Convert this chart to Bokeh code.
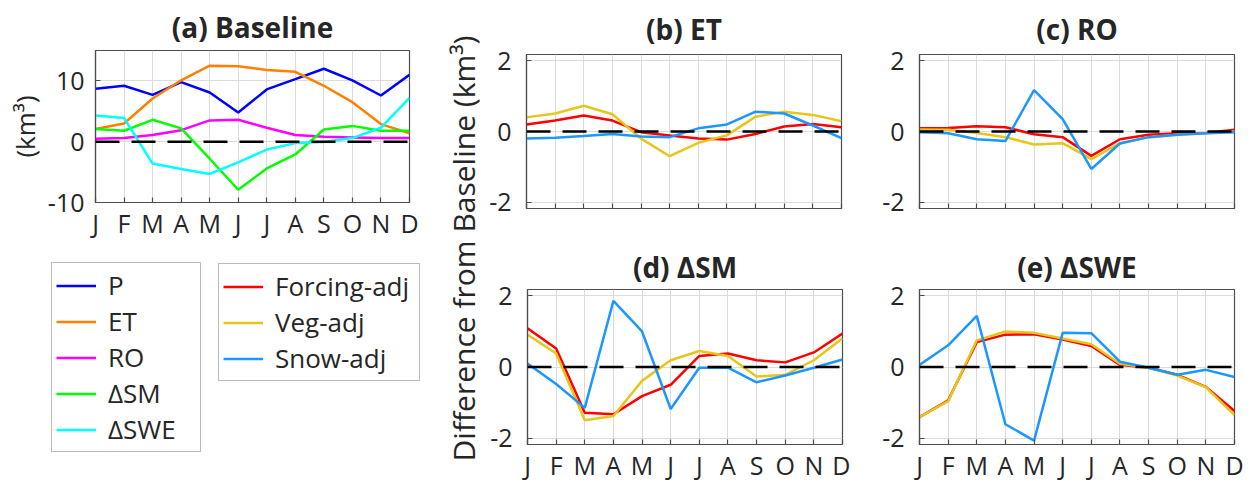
import math
from bokeh.plotting import figure
from bokeh.layouts import row, column
from bokeh.models import Range1d, Span, Legend, LegendItem, Label, FixedTicker
from bokeh.core.properties import value
from bokeh.embed import file_html
from bokeh.resources import INLINE

FONT = "Open Sans"
TXT = "#262626"
FRAME = "#4D4D4D"
GRID = "#DCDCDC"

months = ["J", "F", "M", "A", "M", "J", "J", "A", "S", "O", "N", "D"]
month_idx = list(range(1, 13))

# (a) Baseline (km^3)
base_P = [8.7, 9.2, 7.7, 9.8, 8.1, 4.8, 8.6, 10.3, 12.0, 10.1, 7.6, 11.0]
base_ET = [2.1, 3.0, 7.1, 10.1, 12.5, 12.4, 11.8, 11.5, 9.2, 6.5, 2.9, 1.4]
base_RO = [0.5, 0.6, 1.1, 1.9, 3.5, 3.6, 2.3, 1.1, 0.8, 0.7, 0.6, 0.6]
base_dSM = [2.1, 1.8, 3.6, 2.2, -2.8, -7.9, -4.4, -2.1, 2.0, 2.6, 1.8, 1.8]
base_dSWE = [4.3, 3.9, -3.6, -4.5, -5.3, -3.4, -1.3, -0.2, -0.05, 0.6, 2.3, 7.2]

# (b) ET difference from baseline
et_forcing = [0.20, 0.31, 0.45, 0.31, -0.02, -0.11, -0.20, -0.23, -0.07, 0.14, 0.21, 0.12]
et_veg = [0.40, 0.51, 0.73, 0.49, -0.20, -0.70, -0.32, -0.11, 0.42, 0.56, 0.47, 0.29]
et_snow = [-0.20, -0.18, -0.13, -0.07, -0.14, -0.16, 0.09, 0.20, 0.56, 0.51, 0.17, -0.19]

# (c) RO
ro_forcing = [0.09, 0.10, 0.15, 0.12, -0.08, -0.16, -0.69, -0.22, -0.09, -0.05, -0.04, 0.05]
ro_veg = [0.06, 0.05, -0.04, -0.16, -0.37, -0.33, -0.78, -0.33, -0.16, -0.09, -0.05, 0.00]
ro_snow = [-0.02, -0.05, -0.22, -0.27, 1.17, 0.35, -1.06, -0.34, -0.16, -0.09, -0.05, -0.02]

# (d) dSM
sm_forcing = [1.09, 0.52, -1.29, -1.33, -0.82, -0.50, 0.31, 0.38, 0.19, 0.13, 0.41, 0.94]
sm_veg = [0.91, 0.38, -1.50, -1.38, -0.39, 0.19, 0.45, 0.31, -0.27, -0.22, 0.19, 0.81]
sm_snow = [0.10, -0.48, -1.15, 1.86, 1.00, -1.18, -0.02, -0.02, -0.43, -0.24, -0.02, 0.21]

# (e) dSWE
swe_forcing = [-1.41, -0.94, 0.70, 0.91, 0.92, 0.77, 0.59, 0.06, -0.02, -0.22, -0.56, -1.24]
swe_veg = [-1.41, -0.96, 0.75, 1.00, 0.96, 0.80, 0.64, 0.09, -0.02, -0.24, -0.57, -1.35]
swe_snow = [0.06, 0.61, 1.44, -1.61, -2.07, 0.96, 0.95, 0.15, -0.02, -0.22, -0.08, -0.28]

base_names = ["P", "ET", "RO", "\u0394SM", "\u0394SWE"]
base_colors = ["#0000FF", "#FF8000", "#FF00FF", "#00FF00", "#00FFFF"]
exp_names = ["Forcing-adj", "Veg-adj", "Snow-adj"]
exp_colors = ["#FF0000", "#E6C619", "#1E96FF"]

LW = 2.5


def no_align(p):
    try:
        p.frame_align = False
    except Exception:
        pass


def make_panel(title, width, height, yr, yticks, borders, xlabels, title_standoff, ylabel=None):
    left, right, top, bottom = borders
    p = figure(width=width, height=height, x_range=Range1d(1, 12), y_range=Range1d(*yr),
               output_backend="svg", toolbar_location=None,
               min_border_left=left, min_border_right=right,
               min_border_top=top, min_border_bottom=bottom)
    no_align(p)
    p.title.text = title
    p.title.text_font = FONT
    p.title.text_font_size = "28px"
    p.title.text_font_style = "bold"
    p.title.text_color = TXT
    p.title.align = "center"
    p.title.standoff = title_standoff
    p.xaxis.ticker = FixedTicker(ticks=month_idx)
    p.xaxis.major_label_overrides = {i: (m if xlabels else "") for i, m in zip(month_idx, months)}
    p.yaxis.ticker = FixedTicker(ticks=yticks)
    p.yaxis.major_label_overrides = {t: str(t) for t in yticks}
    p.xgrid.ticker = FixedTicker(ticks=month_idx)
    p.ygrid.ticker = FixedTicker(ticks=yticks)
    p.grid.grid_line_color = GRID
    p.grid.grid_line_width = 1
    for ax in p.axis:
        ax.major_tick_in = 5
        ax.major_tick_out = 0
        ax.minor_tick_in = 0
        ax.minor_tick_out = 0
        ax.axis_line_color = FRAME
        ax.axis_line_width = 1.2
        ax.major_tick_line_color = FRAME
        ax.major_tick_line_width = 1.2
        ax.major_label_text_font = FONT
        ax.major_label_text_font_size = "25px"
        ax.major_label_text_color = TXT
    p.xaxis.major_label_standoff = 3
    if not xlabels:
        p.xaxis.major_label_text_font_size = "8px"
        p.xaxis.major_label_standoff = 0
    p.yaxis.major_label_standoff = 11 if ylabel else 15
    if ylabel:
        p.yaxis.axis_label = ylabel
        p.yaxis.axis_label_text_font = FONT
        p.yaxis.axis_label_text_font_size = "26px"
        p.yaxis.axis_label_text_font_style = "normal"
        p.yaxis.axis_label_text_color = TXT
        p.yaxis.axis_label_standoff = 2
    p.outline_line_color = FRAME
    p.outline_line_width = 1.2
    p.background_fill_color = "white"
    p.border_fill_color = "white"
    return p


def add_zero(p):
    p.add_layout(Span(location=0, dimension="width", line_color="black",
                      line_width=2.5, line_dash="24 12"))


H1 = 242
H2 = 242

# Panel (a)
pa = make_panel("(a) Baseline", 420, H1, (-10, 15), [-10, 0, 10], (95, 11, 48, 38), True, 10, "(km\u00b3)")
for ys, c in zip([base_P, base_ET, base_RO, base_dSM, base_dSWE], base_colors):
    pa.line(month_idx, ys, line_color=c, line_width=LW)
add_zero(pa)

YR = (-2.18, 2.18)
YT = [-2, 0, 2]
pb = make_panel("(b) ET", 365, H1, YR, YT, (41, 9, 52, 34), False, 14)
pc = make_panel("(c) RO", 404, H1, YR, YT, (69, 20, 52, 34), False, 14)
pd = make_panel("(d) \u0394SM", 365, H2, YR, YT, (42, 8, 45, 40), True, 7)
pe = make_panel("(e) \u0394SWE", 404, H2, YR, YT, (69, 20, 45, 40), True, 7)

for p, series in [(pb, [et_forcing, et_veg, et_snow]),
                  (pc, [ro_forcing, ro_veg, ro_snow]),
                  (pd, [sm_forcing, sm_veg, sm_snow]),
                  (pe, [swe_forcing, swe_veg, swe_snow])]:
    for ys, c in zip(series, exp_colors):
        p.line(month_idx, ys, line_color=c, line_width=LW)
    add_zero(p)

# Legend area (the swatch renderers hold real data but lie outside the visible range)
leg = figure(width=420, height=H2, x_range=Range1d(-20, -10), y_range=Range1d(0, 1),
             min_border=0, x_axis_location=None, y_axis_location=None,
             toolbar_location=None, output_backend="svg")
no_align(leg)
leg.grid.visible = False
leg.outline_line_color = None
leg.background_fill_color = "white"
leg.border_fill_color = "white"


def make_legend(names, colors, data, loc, label_width):
    items = []
    for n, c, ys in zip(names, colors, data):
        r = leg.line(month_idx, ys, line_color=c, line_width=LW)
        items.append(LegendItem(label=value(n), renderers=[r]))
    lg = Legend(items=items, location=loc, orientation="vertical",
                label_text_font=FONT, label_text_font_size="26px", label_text_color=TXT,
                glyph_width=40, glyph_height=25, label_height=25, label_width=label_width,
                label_standoff=12, spacing=0, padding=4, margin=0,
                border_line_color="#777777", border_line_width=1.5,
                background_fill_color="white", background_fill_alpha=1)
    leg.add_layout(lg)


make_legend(base_names, base_colors, [base_P, base_ET, base_RO, base_dSM, base_dSWE], (51, 32), 88)
make_legend(exp_names, exp_colors, [et_forcing, et_veg, et_snow], (218, 103), 140)

# Shared y label
lab = figure(width=65, height=H1 + H2, x_range=Range1d(0, 1), y_range=Range1d(0, 1),
             min_border=0, x_axis_location=None, y_axis_location=None,
             toolbar_location=None, output_backend="svg")
no_align(lab)
lab.grid.visible = False
lab.outline_line_color = None
lab.add_layout(Label(x=43, y=236, x_units="screen", y_units="screen",
                     text="Difference from Baseline (km\u00b3)", angle=math.pi / 2,
                     text_align="center", text_baseline="middle",
                     text_font=FONT, text_font_size="30px", text_color=TXT))

layout = row(column(pa, leg), lab, column(pb, pd), column(pc, pe))

with open("out.html", "w") as f:
    f.write(file_html(layout, INLINE))
